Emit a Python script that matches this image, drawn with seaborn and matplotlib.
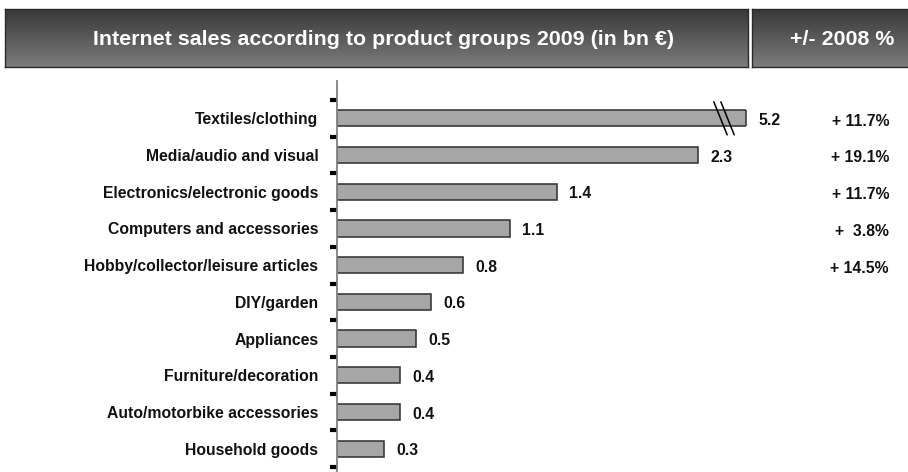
import numpy as np
import pandas as pd
import matplotlib
matplotlib.use("Agg")
import matplotlib.pyplot as plt
import matplotlib.transforms as mtransforms
from matplotlib.colors import LinearSegmentedColormap
import seaborn as sns

# Internet sales by product group, 2009 (bn EUR)
categories = [
    "Textiles/clothing",
    "Media/audio and visual",
    "Electronics/electronic goods",
    "Computers and accessories",
    "Hobby/collector/leisure articles",
    "DIY/garden",
    "Appliances",
    "Furniture/decoration",
    "Auto/motorbike accessories",
    "Household goods",
]
sales_bn = [5.2, 2.3, 1.4, 1.1, 0.8, 0.6, 0.5, 0.4, 0.4, 0.3]
value_labels = ["5.2", "2.3", "1.4", "1.1", "0.8", "0.6", "0.5", "0.4", "0.4", "0.3"]

# Change versus 2008, given for the top five groups
change_labels = ["+ 11.7%", "+ 19.1%", "+ 11.7%", "+  3.8%", "+ 14.5%"]

title_text = "Internet sales according to product groups 2009 (in bn \u20ac)"
change_title = "+/- 2008 %"

df = pd.DataFrame({"category": categories, "sales": sales_bn})

sns.set_theme(style="white")
plt.rcParams["font.family"] = ["Liberation Sans", "DejaVu Sans"]

W, H = 908, 472
LABEL_SIZE = 11.3
fig = plt.figure(figsize=(W / 100, H / 100), dpi=100)
fig.patch.set_facecolor("white")

# Main bar axes; the x range is cut short so the largest bar appears broken
ax = fig.add_axes([337 / W, 0, (746 - 337) / W, 391 / H])
sns.barplot(data=df, x="sales", y="category", orient="h", color="#a6a6a6",
            edgecolor="#2e2e2e", linewidth=1.1, width=0.44, saturation=1, ax=ax)
x_max = 2.605
ax.set_xlim(0, x_max)
ax.set_ylim(9.636, -1.018)
ax.set_xlabel("")
ax.set_ylabel("")
ax.set_xticks([])
ax.set_facecolor("white")
for side in ["top", "right", "bottom"]:
    ax.spines[side].set_visible(False)
ax.spines["left"].set_color("#808080")
ax.spines["left"].set_linewidth(1.3)

ax.tick_params(axis="y", which="major", length=0, pad=13.5)
for lbl in ax.get_yticklabels():
    lbl.set_fontweight("bold")
    lbl.set_fontsize(LABEL_SIZE)
    lbl.set_color("#111111")

n = len(categories)
ax.set_yticks(np.arange(-0.5, n, 1.0), minor=True)
ax.tick_params(axis="y", which="minor", length=5, width=3, color="black",
               direction="out", left=True)

# Value labels at the bar ends (clipped bar labelled at the cut)
bars = ax.patches[:n]
for p, txt in zip(bars, value_labels):
    end = min(p.get_width(), x_max)
    yc = p.get_y() + p.get_height() / 2
    ax.annotate(txt, (end, yc), xytext=(9, -1.5), textcoords="offset points",
                ha="left", va="center", fontsize=LABEL_SIZE, fontweight="bold",
                color="#111111", annotation_clip=False)

# Closing edge and break marks on the clipped bar
p0 = bars[0]
ax.plot([x_max, x_max], [p0.get_y(), p0.get_y() + p0.get_height()],
        color="#2e2e2e", lw=1.1, clip_on=False, solid_capstyle="butt")
for dx in (0.0, 0.045):
    ax.plot([2.40 + dx, 2.485 + dx], [-0.45, 0.45], color="black", lw=1.1,
            clip_on=False)

# Change column on the right
tr = mtransforms.blended_transform_factory(fig.transFigure, ax.transData)
for i, txt in enumerate(change_labels):
    ax.text(889 / W, i + 0.08, txt, transform=tr, ha="right", va="center",
            fontsize=LABEL_SIZE, fontweight="bold", color="#111111")

# Header boxes with a vertical grey gradient
cmap = LinearSegmentedColormap.from_list("hdr", ["#383838", "#7c7c7c"])
grad = np.linspace(0, 1, 256).reshape(-1, 1)


def header(x0, x1, text, tx):
    hax = fig.add_axes([x0 / W, (H - 67) / H, (x1 - x0) / W, 58 / H])
    hax.imshow(grad, cmap=cmap, aspect="auto", extent=[0, 1, 0, 1])
    hax.set_xlim(0, 1)
    hax.set_ylim(0, 1)
    hax.set_xticks([])
    hax.set_yticks([])
    for s in hax.spines.values():
        s.set_color("#2a2a2a")
        s.set_linewidth(1.0)
    hax.text(tx, 0.48, text, ha="center", va="center", color="white",
             fontsize=15.4, fontweight="bold", transform=hax.transAxes)


header(5, 748, title_text, 0.51)
header(752, 930, change_title, 0.505)

fig.savefig("out.png", dpi=100, facecolor="white")
